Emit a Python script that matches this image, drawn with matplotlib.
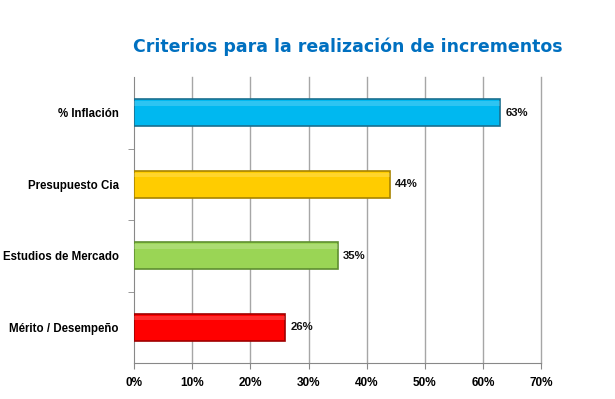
import matplotlib
matplotlib.use("Agg")
import matplotlib.pyplot as plt
from matplotlib.ticker import FixedLocator

categories = ["% Inflación", "Presupuesto Cia", "Estudios de Mercado", "Mérito / Desempeño"]
values = [63, 44, 35, 26]
colors = ["#00B8F0", "#FFCC00", "#9AD555", "#FF0000"]
edges = ["#1A6F8F", "#A88400", "#5F8F30", "#A00000"]
xticks = [0, 10, 20, 30, 40, 50, 60, 70]

fig = plt.figure(figsize=(6.15, 3.99), dpi=100)
ax = fig.add_axes([0.218, 0.090, 0.662, 0.717])

n = len(categories)
ypos = list(range(n - 1, -1, -1))
bars = ax.barh(ypos, values, height=0.38, color=colors, edgecolor=edges, linewidth=1.2, zorder=3)
# subtle highlight strip for 3D look
ax.barh([y + 0.13 for y in ypos], values, height=0.06, color="white", alpha=0.18, linewidth=0, zorder=4)

for y, v in zip(ypos, values):
    ax.text(v + 0.9, y, f"{v}%", va="center", ha="left", fontsize=8.2, fontweight="bold",
            family="Liberation Sans", color="#111111")

ax.set_xlim(0, 70)
ax.set_ylim(-0.5, n - 0.5)
ax.set_xticks(xticks)
ax.set_xticklabels([f"{t}%" for t in xticks], fontsize=8.5, fontweight="bold", family="Liberation Sans")
ax.set_yticks(ypos)
ax.set_yticklabels(categories, fontsize=8.3, fontweight="bold", family="Liberation Sans")
ax.tick_params(axis="y", length=0, pad=11)
ax.yaxis.set_minor_locator(FixedLocator([0.5, 1.5, 2.5]))
ax.tick_params(axis="y", which="minor", length=4, color="#888888")
ax.tick_params(axis="x", length=4, color="#888888", pad=6)

for t in xticks[1:]:
    ax.axvline(t, color="#A6A6A6", linewidth=1, zorder=0, clip_on=False)
for s in ["top", "right"]:
    ax.spines[s].set_visible(False)
ax.spines["left"].set_color("#888888")
ax.spines["bottom"].set_color("#888888")

fig.text(0.566, 0.883, "Criterios para la realización de incrementos", ha="center", va="center",
         fontsize=12.5, fontweight="bold", color="#0070C0", family="DejaVu Sans")

fig.savefig("out.png", dpi=100)
